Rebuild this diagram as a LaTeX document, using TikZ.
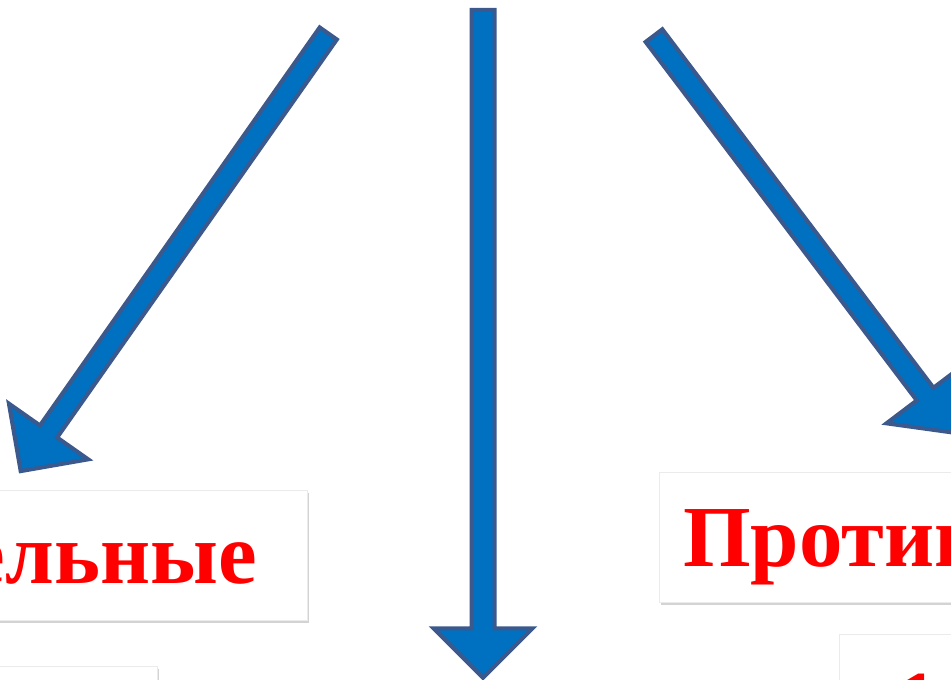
\documentclass[tikz,border=0pt]{standalone}
\usepackage{fontspec}
\setmainfont{Liberation Serif}
\usepackage{tikz}
\usetikzlibrary{shapes.arrows, shadows}
\definecolor{ArrowFill}{RGB}{0,112,192}
\definecolor{ArrowLine}{RGB}{59,89,140}
\definecolor{WordRed}{RGB}{255,0,0}
\begin{document}
\begin{tikzpicture}[x=1pt, y=-1pt,
  bluearrow/.style={draw=ArrowLine, fill=ArrowFill, line width=4pt, single arrow,
    single arrow tip angle=90, inner xsep=0pt, inner ysep=#1, single arrow head extend=38pt},
  card/.style={draw=black!8, fill=white, line width=0.6pt,
    drop shadow={shadow xshift=2pt, shadow yshift=-3pt, opacity=0.35}},
  redword/.style={text=WordRed, font=\fontsize{87}{90}\selectfont\bfseries, inner sep=0pt}]
\useasboundingbox (0,0) rectangle (951,680);
\clip (0,0) rectangle (951,680);

\node[bluearrow=8.5pt, minimum height=535pt, rotate=-125.1] (leftArrow) at (177.5,248) {};
\node[bluearrow=9.5pt, minimum height=668pt, rotate=-90] (midArrow) at (483,338) {};
\node[bluearrow=8.5pt, minimum height=498pt, rotate=-52.9] (rightArrow) at (801,230) {};

%\node[card] (leftCard) at (100,555) {};
\path[card] (-40,490) rectangle (307,620);
\node[redword, anchor=base east] (leftWord) at (257,583) {ельные};

\path[card] (659,472) rectangle (1000,602);
\node[redword, anchor=base west] (rightWord) at (683,566) {Против};

\path[card] (-40,666) rectangle (157,720);
\path[card] (839,634) rectangle (1000,720);
\node[redword, anchor=base west] (lowWord) at (895,731) {1};

\end{tikzpicture}
\end{document}
